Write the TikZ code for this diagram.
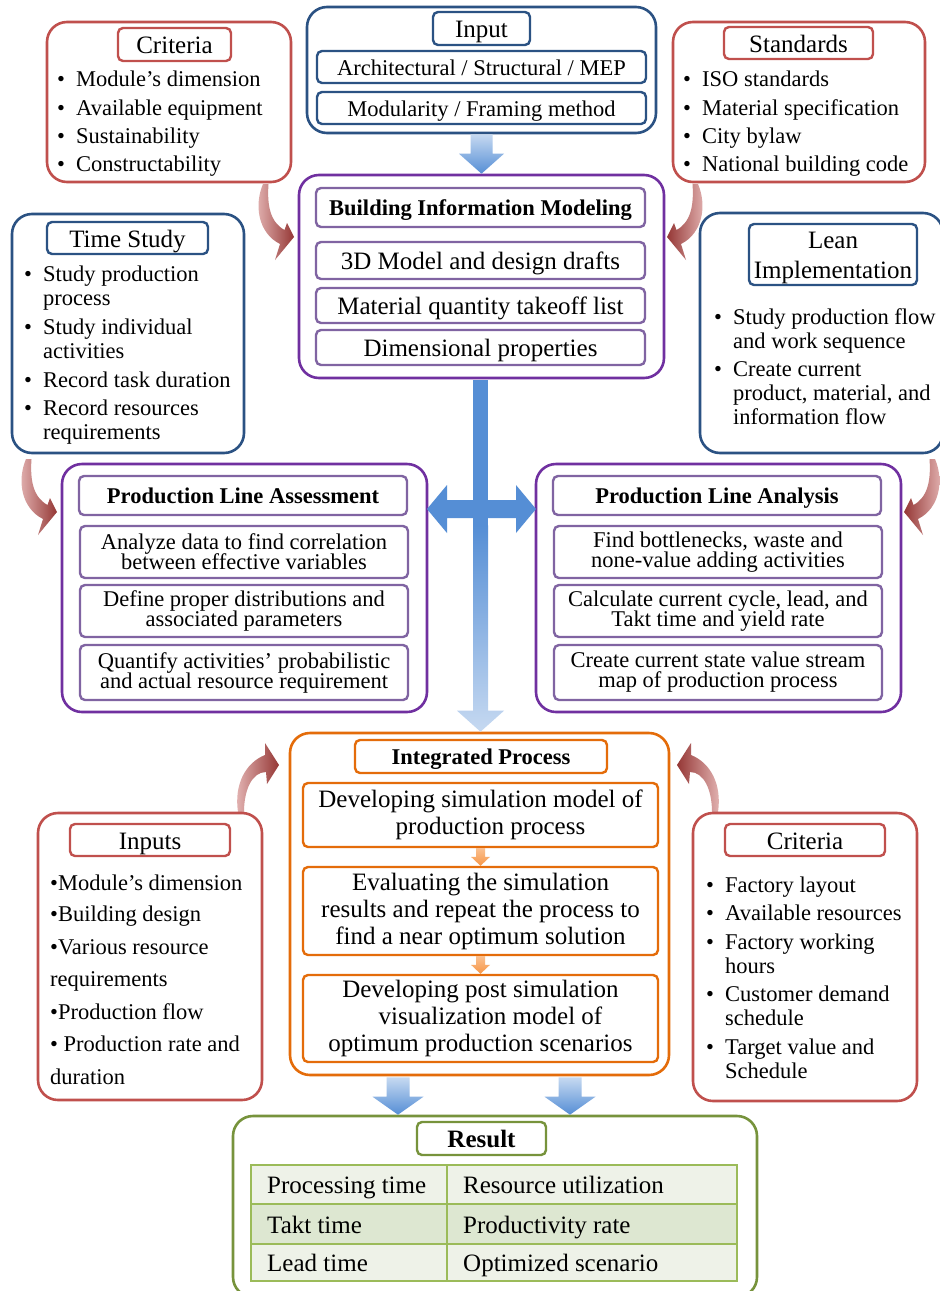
\documentclass[tikz,border=0pt]{standalone}
\usepackage{fontspec}
\setmainfont{Liberation Serif}
\usetikzlibrary{calc}

\definecolor{cblue}{HTML}{2B5283}
\definecolor{cred}{HTML}{C0504D}
\definecolor{cpur}{HTML}{7030A0}
\definecolor{cpurl}{HTML}{8064A2}
\definecolor{corg}{HTML}{E46C0A}
\definecolor{cgrn}{HTML}{77933C}
\definecolor{cgrnl}{HTML}{9BBB59}
\definecolor{rowa}{HTML}{EEF2E8}
\definecolor{rowb}{HTML}{DDE7D1}
\definecolor{arrblue}{HTML}{558ED5}
\definecolor{arrpale}{HTML}{C6D9F1}
\definecolor{arrdark}{HTML}{953735}
\definecolor{arrlight}{HTML}{E6B9B8}
\definecolor{orgl}{HTML}{FAC090}
\definecolor{orgd}{HTML}{F79646}

% box given by its corners: name, style, x1, y1, x2, y2, text
\newcommand{\bx}[7]{%
  \pgfmathsetmacro\bxcx{(#3+#5)/2}%
  \pgfmathsetmacro\bxcy{(#4+#6)/2}%
  \pgfmathsetmacro\bxw{#5-#3}%
  \pgfmathsetmacro\bxh{#6-#4}%
  \node[#2, minimum width=\bxw pt, minimum height=\bxh pt] (#1) at (\bxcx,\bxcy) {#7};}

% downward block arrow: from, to, shaft half width, head half width, head length, fill
\newcommand{\blockdown}[6]{%
  \path[#6] let \p1=#1, \p2=#2 in
    (\x1-#3,\y1) -- (\x1-#3,\y2+#5) -- (\x1-#4,\y2+#5) -- (\x1,\y2)
    -- (\x1+#4,\y2+#5) -- (\x1+#3,\y2+#5) -- (\x1+#3,\y1) -- cycle;}

\newcommand{\bul}{\makebox[19pt][l]{•}}
% tight leading for the two-line captions
\newcommand{\tightlead}{\fontsize{22.5}{20}\selectfont\setlength{\lineskiplimit}{-50pt}}

\tikzset{
  box/.style={inner sep=0pt, align=center, fill=white},
  obox/.style={box, rounded corners=20pt, line width=2.6pt},
  ibox/.style={box, rounded corners=5pt, line width=2.4pt},
  fb/.style={font=\tightlead},
  % single-line captions
  fm/.style={font=\fontsize{22.5}{24}\selectfont, text height=18pt, text depth=2pt},
  fh/.style={font=\fontsize{22.5}{24}\selectfont\bfseries, text height=18pt, text depth=2pt},
  fl/.style={font=\fontsize{25}{27}\selectfont, text height=20pt, text depth=2pt},
  % multi-line 25pt captions
  flm/.style={font=\fontsize{25}{27}\selectfont},
  itm/.style={anchor=west, inner sep=0pt, text height=18pt, text depth=2pt,
              font=\fontsize{22.5}{24}\selectfont},
  tbl/.style={anchor=west, inner sep=0pt, text height=20pt, text depth=2pt,
              font=\fontsize{25}{27}\selectfont},
  cell/.style={inner sep=0pt, draw=cgrnl, line width=1.3pt},
}

\begin{document}
\begin{tikzpicture}[x=1pt, y=-1pt]
\useasboundingbox (0,0) rectangle (940,1291);
\clip (0,0) rectangle (940,1291);
\fill[white] (0,0) rectangle (940,1291);

% ---------------- boxes ----------------
% Criteria (top left)
\bx{crit}{obox, draw=cred}{47}{22}{291}{182}{}
\bx{critT}{ibox, draw=cred, fl}{118}{28}{231}{61}{Criteria}
\node[itm] (c1) at (57,78)  {\bul Module’s dimension};
\node[itm] (c2) at (57,107) {\bul Available equipment};
\node[itm] (c3) at (57,135) {\bul Sustainability};
\node[itm] (c4) at (57,163) {\bul Constructability};

% Input
\bx{inp}{obox, draw=cblue}{307}{7}{656}{133}{}
\bx{inpT}{ibox, draw=cblue, fl}{433}{12}{530}{45}{Input}
\bx{inpA}{ibox, draw=cblue, fm}{317}{51}{646}{83}{Architectural / Structural / MEP}
\bx{inpB}{ibox, draw=cblue, fm}{317}{92}{646}{124}{Modularity / Framing method}

% Standards
\bx{std}{obox, draw=cred}{673}{22}{925}{182}{}
\bx{stdT}{ibox, draw=cred, fl}{724}{27}{873}{59}{Standards}
\node[itm] (s1) at (683,78)  {\bul ISO standards};
\node[itm] (s2) at (683,107) {\bul Material specification};
\node[itm] (s3) at (683,135) {\bul City bylaw};
\node[itm] (s4) at (683,163) {\bul National building code};

% Building Information Modeling
\bx{bim}{obox, draw=cpur}{299}{175}{664}{378}{}
\bx{bimT}{ibox, draw=cpurl, fh}{316}{188}{645}{227}{Building Information Modeling}
\bx{bim1}{ibox, draw=cpurl, fl}{316}{242}{645}{279}{3D Model and design drafts}
\bx{bim2}{ibox, draw=cpurl, fl}{316}{288}{645}{323}{Material quantity takeoff list}
\bx{bim3}{ibox, draw=cpurl, fl}{316}{330}{645}{365}{Dimensional properties}

% Time Study
\bx{ts}{obox, draw=cblue}{12}{214}{244}{453}{}
\bx{tsT}{ibox, draw=cblue, fl}{47}{222}{208}{254}{Time Study}
\node[itm] (t1)  at (24,273) {\bul Study production};
\node[itm] (t1b) at (43,297) {process};
\node[itm] (t2)  at (24,326) {\bul Study individual};
\node[itm] (t2b) at (43,350) {activities};
\node[itm] (t3)  at (24,379) {\bul Record task duration};
\node[itm] (t4)  at (24,407) {\bul Record resources};
\node[itm] (t4b) at (43,431) {requirements};

% Lean Implementation
\bx{lean}{obox, draw=cblue}{700}{213}{943}{453}{}
\bx{leanT}{ibox, draw=cblue}{749}{224}{917}{285}{}
\node[align=center, inner sep=0pt, font=\fontsize{25}{30}\selectfont] (leanTx)
  at ($(leanT.center)+(0,3)$) {Lean\\Implementation};
\node[itm] (l1)  at (714,316) {\bul Study production flow};
\node[itm] (l1b) at (733,340) {and work sequence};
\node[itm] (l2)  at (714,368) {\bul Create current};
\node[itm] (l2b) at (733,392) {product, material, and};
\node[itm] (l2c) at (733,416) {information flow};

% ---------------- curved arrows ----------------
% Criteria -> BIM
\path[left color=arrlight, right color=arrdark]
  (263,184) .. controls (254,205) and (258,233) .. (280,244) -- (275,260) -- (294,237)
  -- (287,223) -- (284.5,230) .. controls (270,222) and (267,205) .. (268.5,184) -- cycle;
% Standards -> BIM
\path[left color=arrdark, right color=arrlight]
  (698,184) .. controls (707,205) and (703,233) .. (681,244) -- (686,260) -- (667,237)
  -- (674,223) -- (676.5,230) .. controls (691,222) and (694,205) .. (692.5,184) -- cycle;
% Time Study -> Production Line Assessment
\path[left color=arrlight, right color=arrdark]
  (26,459) .. controls (17,480) and (21,508) .. (43,519) -- (38,535) -- (57,512)
  -- (50,498) -- (47.5,505) .. controls (33,497) and (30,480) .. (31.5,459) -- cycle;
% Lean Implementation -> Production Line Analysis
\path[left color=arrdark, right color=arrlight]
  (935,459) .. controls (944,480) and (940,508) .. (918,519) -- (923,535) -- (904,512)
  -- (911,498) -- (913.5,505) .. controls (928,497) and (931,480) .. (929.5,459) -- cycle;
% Inputs -> Integrated Process
\path[left color=arrlight, right color=arrdark]
  (238,812) .. controls (234,785) and (245,763) .. (265,755) -- (265,743) -- (279,765)
  -- (267,784) -- (266,772) .. controls (252,772) and (244,790) .. (244,812) -- cycle;
% Criteria -> Integrated Process
\path[left color=arrdark, right color=arrlight]
  (718,812) .. controls (722,785) and (711,763) .. (691,755) -- (691,743) -- (677,765)
  -- (689,784) -- (690,772) .. controls (704,772) and (712,790) .. (712,812) -- cycle;

% Production Line Assessment
\bx{pla}{obox, draw=cpur}{62}{464}{427}{712}{}
\bx{plaT}{ibox, draw=cpurl, fh}{79}{476}{407}{515}{Production Line Assessment}
\bx{pla1}{ibox, draw=cpurl, fb}{80}{526}{408}{578}{Analyze data to find correlation\\between effective variables}
\bx{pla2}{ibox, draw=cpurl, fb}{80}{585}{408}{637}{Define proper distributions and\\associated parameters}
\bx{pla3}{ibox, draw=cpurl, fb}{80}{645}{408}{700}{Quantify activities’ probabilistic\\and actual resource requirement}

% Production Line Analysis
\bx{pln}{obox, draw=cpur}{536}{464}{901}{712}{}
\bx{plnT}{ibox, draw=cpurl, fh}{553}{476}{881}{515}{Production Line Analysis}
\bx{pln1}{ibox, draw=cpurl, fb}{554}{526}{882}{578}{Find bottlenecks, waste and\\none-value adding activities}
\bx{pln2}{ibox, draw=cpurl, fb}{554}{585}{882}{637}{Calculate current cycle, lead, and\\Takt time and yield rate}
\bx{pln3}{ibox, draw=cpurl, fb}{554}{645}{882}{700}{Create current state value stream\\map of production process}

% Integrated Process
\bx{intp}{obox, draw=corg}{290}{733}{669}{1075}{}
\bx{intpT}{ibox, draw=corg, fh}{355}{740}{607}{773}{Integrated Process}
\bx{i1}{ibox, draw=corg, flm}{303}{783}{658}{847}{Developing simulation model of\\\hspace*{20pt}production process}
\bx{i2}{ibox, draw=corg, flm}{303}{867}{658}{955}{Evaluating the simulation\\results and repeat the process to\\find a near optimum solution}
\bx{i3}{ibox, draw=corg, flm}{303}{975}{658}{1062}{Developing post simulation\\\hspace*{20pt}visualization model of\\optimum production scenarios}

% Inputs
\bx{ins}{obox, draw=cred}{38}{813}{262}{1100}{}
\bx{insT}{ibox, draw=cred, fl}{70}{824}{230}{856}{Inputs}
\node[itm] (n1) at (50,882)  {•Module’s dimension};
\node[itm] (n2) at (50,913)  {•Building design};
\node[itm] (n3) at (50,946)  {•Various resource};
\node[itm] (n4) at (50,978)  {requirements};
\node[itm] (n5) at (50,1011) {•Production flow};
\node[itm] (n6) at (50,1043) {• Production rate and};
\node[itm] (n7) at (50,1076) {duration};

% Criteria (bottom right)
\bx{crb}{obox, draw=cred}{693}{813}{917}{1101}{}
\bx{crbT}{ibox, draw=cred, fl}{725}{824}{885}{856}{Criteria}
\node[itm] (k1)  at (706,884)  {\bul Factory layout};
\node[itm] (k2)  at (706,912)  {\bul Available resources};
\node[itm] (k3)  at (706,941)  {\bul Factory working};
\node[itm] (k3b) at (725,965)  {hours};
\node[itm] (k4)  at (706,993)  {\bul Customer demand};
\node[itm] (k4b) at (725,1017) {schedule};
\node[itm] (k5)  at (706,1046) {\bul Target value and};
\node[itm] (k5b) at (725,1070) {Schedule};

% Result
\bx{res}{obox, draw=cgrn}{233}{1116}{757}{1297}{}
\bx{resT}{ibox, draw=cgrn, fl, font=\fontsize{25}{27}\selectfont\bfseries}{417}{1122}{546}{1155}{Result}
\bx{ra1}{cell, fill=rowa}{251}{1165}{447}{1204}{}
\bx{rb1}{cell, fill=rowa}{447}{1165}{737}{1204}{}
\bx{ra2}{cell, fill=rowb}{251}{1204}{447}{1244}{}
\bx{rb2}{cell, fill=rowb}{447}{1204}{737}{1244}{}
\bx{ra3}{cell, fill=rowa}{251}{1244}{447}{1281}{}
\bx{rb3}{cell, fill=rowa}{447}{1244}{737}{1281}{}
\node[tbl] (ta1) at (267,1184.5) {Processing time};
\node[tbl] (tb1) at (463,1184.5) {Resource utilization};
\node[tbl] (ta2) at (267,1224)   {Takt time};
\node[tbl] (tb2) at (463,1224)   {Productivity rate};
\node[tbl] (ta3) at (267,1262.5) {Lead time};
\node[tbl] (tb3) at (463,1262.5) {Optimized scenario};

% ---------------- block arrows ----------------
\blockdown{(inp.south)}{(bim.north)}{11pt}{22.5pt}{20pt}{top color=arrpale, bottom color=arrblue}
% central spine
\fill[arrblue] ($(bim.south)+(-8.5,1)$) rectangle ($(bim.south)+(6.5,148)$);
\blockdown{($(bim.south)+(-1,146)$)}{(intp.north)}{7.5pt}{23.5pt}{21pt}{top color=arrblue, bottom color=arrpale}
% two-headed crossbar
\coordinate (hl) at (427,509);
\coordinate (hr) at (536,509);
\fill[arrblue] (hl) -- ++(20,-24) -- ++(0,15) -- ($(hr)+(-20,-9)$) -- ++(0,-15) -- (hr)
  -- ++(-20,24) -- ++(0,-15) -- ($(hl)+(20,9)$) -- ++(0,15) -- cycle;
% steps of the integrated process
\blockdown{(i1.south)}{(i2.north)}{4.5pt}{9.5pt}{9pt}{top color=orgl, bottom color=orgd}
\blockdown{(i2.south)}{(i3.north)}{4.5pt}{9.5pt}{9pt}{top color=orgl, bottom color=orgd}
% to the results
\blockdown{($(intp.south)+(-81.5,1)$)}{(res.north)}{11.5pt}{25.5pt}{18pt}{top color=arrpale, bottom color=arrblue}
\blockdown{($(intp.south)+(90.5,1)$)}{(res.north)}{11.5pt}{25.5pt}{18pt}{top color=arrpale, bottom color=arrblue}
\end{tikzpicture}
\end{document}
